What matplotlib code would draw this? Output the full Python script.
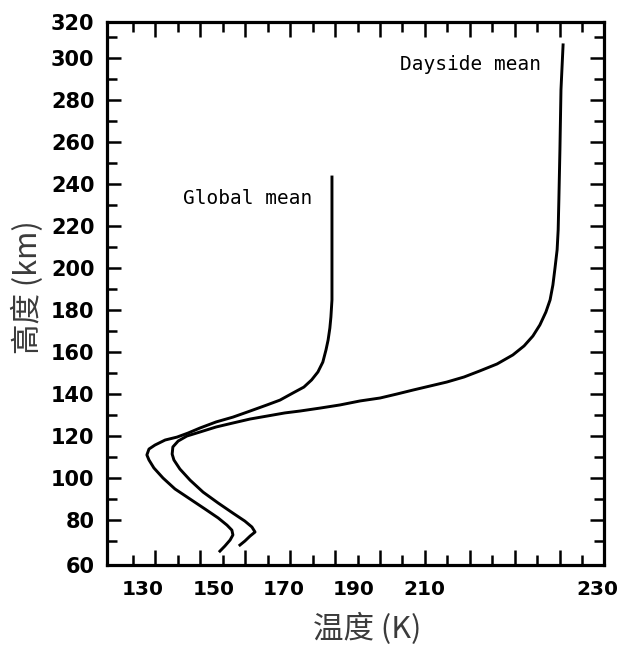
import numpy as np
import matplotlib
matplotlib.use('Agg')
import matplotlib.pyplot as plt
from matplotlib.ticker import FixedLocator

# ---- data (x in the labelled K units, y in km) ----
global_T = [151.9, 153.3, 154.8, 155.6, 155.3, 153.9, 151.4, 147.7, 143.4, 139.1,
            135.7, 133.1, 131.7, 131.1, 131.7, 133.4, 136.3, 139.7, 142.8, 146.2,
            150.8, 155.6, 160.5, 165.3, 169.0, 172.7, 175.8, 178.0, 179.8, 181.2,
            182.1, 182.7, 183.2, 183.5, 183.8, 183.8]
global_z = [65.2, 67.6, 70.5, 72.9, 75.2, 77.6, 81.0, 85.2, 90.0, 94.8,
            100.0, 104.8, 108.6, 111.0, 113.8, 115.7, 118.1, 119.5, 121.4, 123.8,
            126.7, 129.0, 131.9, 134.8, 137.1, 140.5, 143.3, 146.7, 150.5, 155.2,
            161.0, 165.7, 171.4, 176.7, 184.8, 243.3]

day_T = [157.6, 159.0, 160.5, 161.9, 161.0, 159.0, 155.6, 151.4, 147.1, 143.4,
         140.5, 138.8, 138.3, 138.5, 140.0, 142.5, 146.2, 150.8, 155.6, 160.5,
         165.3, 170.4, 174.7, 180.4, 186.1, 191.8, 197.5, 202.3, 206.9, 211.7,
         216.5, 221.4, 225.9, 230.8, 235.3, 238.5, 241.0, 243.0, 244.7, 245.9,
         246.7, 247.3, 247.9, 248.2, 248.4, 248.7, 249.0, 249.6]
day_z = [68.1, 70.0, 72.4, 74.3, 76.7, 79.5, 83.3, 88.1, 93.3, 99.0,
         104.3, 108.6, 111.4, 114.8, 117.6, 120.0, 121.9, 124.3, 126.2, 128.1,
         129.5, 131.0, 131.9, 133.3, 134.8, 136.7, 138.1, 140.0, 141.9, 143.8,
         145.7, 148.1, 151.0, 154.3, 158.6, 162.9, 167.6, 172.9, 179.0, 184.8,
         191.9, 200.0, 208.6, 218.1, 232.4, 256.2, 284.8, 306.2]

x_tick_labels = ['130', '150', '170', '190', '210', '230']
x_label_pos = [130, 150, 170, 190, 210, 259.5]
y_tick_labels = ['60', '80', '100', '120', '140', '160', '180', '200', '220',
                 '240', '260', '280', '300', '320']

xlim = (119.75, 261.25)
ylim = (58.6, 317.1)

plt.rcParams['font.family'] = ['DejaVu Sans']

fig = plt.figure(figsize=(6.27, 6.46), dpi=100)
ax = fig.add_axes([107 / 627, 81 / 646, 497 / 627, 543 / 646])

ax.plot(global_T, global_z, color='black', lw=2.1, solid_joinstyle='round')
ax.plot(day_T, day_z, color='black', lw=2.1, solid_joinstyle='round')

ax.set_xlim(*xlim)
ax.set_ylim(*ylim)

for s in ax.spines.values():
    s.set_linewidth(2.3)

# visible x ticks (unlabelled), alternating long / short
step = 6.392
start = 127.15
all_x = [start + step * i for i in range(21)]
ax.xaxis.set_major_locator(FixedLocator(all_x[1::2]))
ax.xaxis.set_minor_locator(FixedLocator(all_x[0::2]))
ax.tick_params(axis='x', which='major', direction='in', length=11, width=1.8,
               top=True, bottom=True, labelbottom=False)
ax.tick_params(axis='x', which='minor', direction='in', length=7.5, width=1.8,
               top=True, bottom=True)

# labels for the x axis
sec = ax.secondary_xaxis('bottom')
sec.set_xticks(x_label_pos, x_tick_labels)
sec.tick_params(length=0, pad=11, labelsize=14.5)
for lab in sec.get_xticklabels():
    lab.set_fontweight('bold')
sec.spines['bottom'].set_visible(False)

# y ticks
ypos = [ylim[0]] + list(range(80, 301, 20)) + [ylim[1]]
ax.yaxis.set_major_locator(FixedLocator(ypos))
ax.set_yticklabels(y_tick_labels, fontsize=15, fontweight='bold')
ax.yaxis.set_minor_locator(FixedLocator(list(range(70, 311, 20))))
ax.tick_params(axis='y', which='major', direction='in', length=10, width=1.8,
               left=True, right=True, pad=9)
ax.tick_params(axis='y', which='minor', direction='in', length=7.5, width=1.8,
               left=True, right=True)

# annotations
ax.text(141.4, 233.3, 'Global mean', family='DejaVu Sans Mono', fontsize=14,
        va='center', ha='left')
ax.text(203.2, 296.7, 'Dayside mean', family='DejaVu Sans Mono', fontsize=14,
        va='center', ha='left')

# axis labels
lab_color = '#3b3b3b'
ax.set_xlabel('温度 (K)', family=['Noto Sans CJK SC', 'DejaVu Sans'],
              fontsize=22, color=lab_color)
ax.xaxis.set_label_coords(0.523, -0.088)
ax.set_ylabel('高度 (km)', family=['Noto Sans CJK SC', 'DejaVu Sans'],
              fontsize=22, color=lab_color)
ax.yaxis.label.set_va('center')
ax.yaxis.set_label_coords(-0.159, 0.512)

fig.savefig('out.png', dpi=100)
